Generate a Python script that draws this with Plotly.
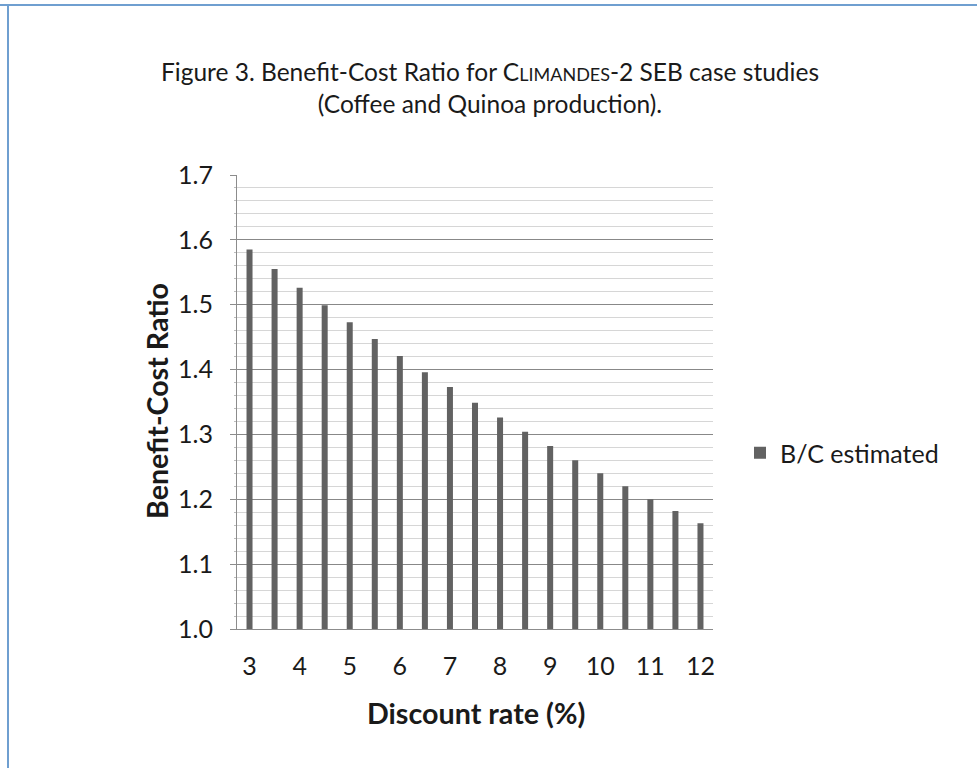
import plotly.graph_objects as go

# ---- data ----
discount_rates = [3, 3.5, 4, 4.5, 5, 5.5, 6, 6.5, 7, 7.5, 8, 8.5, 9, 9.5, 10, 10.5, 11, 11.5, 12]
bc_ratio = [1.585, 1.555, 1.526, 1.499, 1.473, 1.447, 1.421, 1.396, 1.373, 1.349,
            1.326, 1.304, 1.282, 1.260, 1.240, 1.220, 1.200, 1.182, 1.163]
x_tick_values = [3, 4, 5, 6, 7, 8, 9, 10, 11, 12]
x_tick_labels = ["3", "4", "5", "6", "7", "8", "9", "10", "11", "12"]
y_tick_values = [1.0, 1.1, 1.2, 1.3, 1.4, 1.5, 1.6, 1.7]
y_tick_labels = ["1.0", "1.1", "1.2", "1.3", "1.4", "1.5", "1.6", "1.7"]
series_name = "B/C estimated"

FONT = "Lato"
TXT = "#1a1a1a"
W, H = 977, 768
L, R, T, B = 237, 264, 175, 139
PW, PH = W - L - R, H - T - B

def px(x):
    return (x - L) / PW

def py(y):
    return (H - B - y) / PH

fig = go.Figure()
fig.add_trace(go.Bar(
    x=discount_rates, y=bc_ratio, name=series_name,
    marker=dict(color="#626262", line=dict(width=0)),
    width=0.12, showlegend=True,
))

fig.update_layout(
    width=W, height=H,
    margin=dict(l=L, r=R, t=T, b=B, autoexpand=False),
    paper_bgcolor="white", plot_bgcolor="white",
    font=dict(family=FONT, color=TXT),
    showlegend=True,
    legend=dict(x=px(740), y=py(453), xanchor="left", yanchor="middle",
                font=dict(size=25, family=FONT, color=TXT),
                bgcolor="rgba(0,0,0,0)", itemwidth=30),
    xaxis=dict(
        range=[2.75, 12.25], tickmode="array", tickvals=x_tick_values, ticktext=x_tick_labels,
        showgrid=False, zeroline=False, showline=True, linecolor="#8c8c8c", linewidth=1,
        ticks="", tickfont=dict(size=25, family=FONT, color=TXT),
        ticklabelstandoff=15,
    ),
    yaxis=dict(
        range=[1.0, 1.7], tickmode="array", tickvals=y_tick_values, ticktext=y_tick_labels,
        showgrid=True, gridcolor="#888888", gridwidth=1, zeroline=False,
        showline=True, linecolor="#8c8c8c", linewidth=1,
        ticks="outside", ticklen=6, tickcolor="#8c8c8c",
        tickfont=dict(size=25, family=FONT, color=TXT),
        ticklabelstandoff=12,
        minor=dict(dtick=0.02, showgrid=True, gridcolor="#d6d6d6", gridwidth=1,
                   ticks="outside", ticklen=2, tickcolor="#bdbdbd"),
    ),
    shapes=[
        dict(type="line", xref="paper", yref="paper", x0=px(0), x1=px(W), y0=py(5), y1=py(5),
             line=dict(color="#6f9fd0", width=2)),
        dict(type="line", xref="paper", yref="paper", x0=px(8), x1=px(8), y0=py(4), y1=py(H),
             line=dict(color="#6f9fd0", width=2)),
    ],
    annotations=[
        dict(text="Figure 3. Benefit-Cost Ratio for C<span style='font-size:18px'>LIMANDES</span>-2 SEB case studies<br>(Coffee and Quinoa production).",
             xref="paper", yref="paper", x=px(489.5), y=py(88), xanchor="center", yanchor="middle",
             showarrow=False, font=dict(size=24.5, family=FONT, color=TXT), align="center"),
        dict(text="<b>Discount rate (%)</b>", xref="paper", yref="paper",
             x=px(476), y=py(713), xanchor="center", yanchor="middle", showarrow=False,
             font=dict(size=28.7, family=FONT, color=TXT)),
        dict(text="<b>Benefit-Cost Ratio</b>", xref="paper", yref="paper",
             x=px(157), y=py(401), xanchor="center", yanchor="middle", showarrow=False,
             textangle=-90, font=dict(size=28.6, family=FONT, color=TXT)),
    ],
)

fig.write_html("out.html", config={"displayModeBar": False},
               post_script="document.body.style.margin='0px';")
